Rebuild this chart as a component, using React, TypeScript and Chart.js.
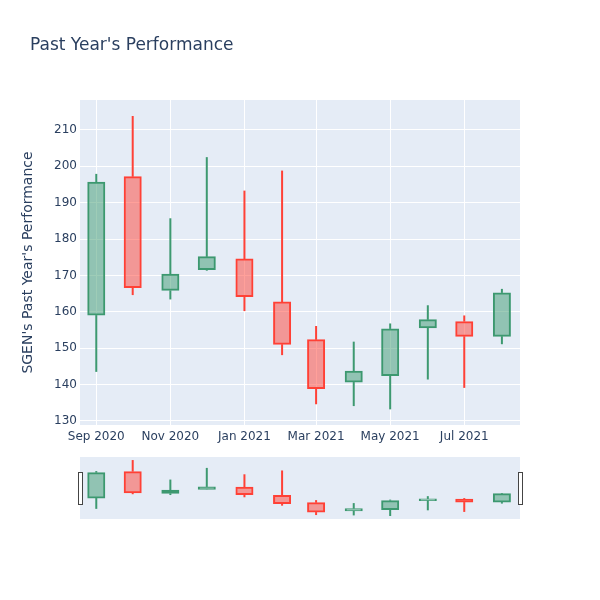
import React, { useEffect, useRef } from "react";
import { Chart, registerables } from "chart.js";

Chart.register(...registerables);

const chartTitle = "Past Year's Performance";
const yTitle = "SGEN's Past Year's Performance";

const dates = [
  "2020-09-01", "2020-10-01", "2020-11-01", "2020-12-01",
  "2021-01-01", "2021-02-01", "2021-03-01", "2021-04-01",
  "2021-05-01", "2021-06-01", "2021-07-01", "2021-08-01",
];
const opens = [159.1, 197.1, 165.9, 171.6, 174.5, 162.7, 152.3, 140.7, 142.5, 155.6, 157.3, 153.3];
const highs = [197.9, 213.8, 185.7, 202.5, 193.3, 198.8, 156.1, 151.8, 156.8, 161.8, 159.0, 166.3];
const lows = [143.5, 164.6, 163.4, 171.3, 160.2, 148.1, 134.6, 134.1, 133.2, 141.4, 139.1, 151.1];
const closes = [195.6, 166.7, 170.3, 175.1, 164.2, 151.1, 138.9, 143.7, 155.3, 157.8, 153.3, 165.2];

const tickDates = ["2020-09-01", "2020-11-01", "2021-01-01", "2021-03-01", "2021-05-01", "2021-07-01"];
const tickLabels = ["Sep 2020", "Nov 2020", "Jan 2021", "Mar 2021", "May 2021", "Jul 2021"];
const yTicks = [130, 140, 150, 160, 170, 180, 190, 200, 210];

const X_MIN = -13.4;
const X_MAX = 348.9;
const Y_MIN = 128.9;
const Y_MAX = 218.2;

const UP = "#3D9970";
const DOWN = "#FF4136";
const UP_FILL = "rgba(61,153,112,0.5)";
const DOWN_FILL = "rgba(255,65,54,0.5)";
const BG = "#E5ECF6";
const TEXT = "#2a3f5f";
const FONT = "'DejaVu Sans', sans-serif";

const day = (s: string) => (Date.parse(s) - Date.parse(dates[0])) / 86400000;

function makeDatasets(): any[] {
  const isUp = dates.map((_, i) => closes[i] >= opens[i]);
  const lineCol = isUp.map((u) => (u ? UP : DOWN));
  const fillCol = isUp.map((u) => (u ? UP_FILL : DOWN_FILL));
  return [
    {
      label: "body",
      data: dates.map((d, i) => ({ x: day(d), y: [opens[i], closes[i]] })),
      backgroundColor: fillCol,
      borderColor: lineCol,
      borderWidth: 1,
      borderSkipped: false,
      barThickness: 17,
      inflateAmount: 0.5,
      grouped: false,
    },
    {
      label: "upper",
      data: dates.map((d, i) => ({ x: day(d), y: [Math.max(opens[i], closes[i]), highs[i]] })),
      backgroundColor: lineCol,
      borderWidth: 0,
      barThickness: 2,
      inflateAmount: 0,
      grouped: false,
    },
    {
      label: "lower",
      data: dates.map((d, i) => ({ x: day(d), y: [lows[i], Math.min(opens[i], closes[i])] })),
      backgroundColor: lineCol,
      borderWidth: 0,
      barThickness: 2,
      inflateAmount: 0,
      grouped: false,
    },
  ];
}

const bgPlugin = {
  id: "bgfill",
  beforeDraw(chart: any) {
    const { ctx, chartArea } = chart;
    ctx.save();
    ctx.fillStyle = BG;
    ctx.fillRect(chartArea.left, chartArea.top, chartArea.right - chartArea.left, chartArea.bottom - chartArea.top);
    ctx.restore();
  },
};

const titlePlugin = {
  id: "maintitle",
  afterDraw(chart: any) {
    const { ctx } = chart;
    ctx.save();
    ctx.font = `17px ${FONT}`;
    ctx.fillStyle = TEXT;
    ctx.textBaseline = "alphabetic";
    ctx.textAlign = "left";
    ctx.fillText(chartTitle, 30, 50);
    ctx.restore();
  },
};

const handlePlugin = {
  id: "handles",
  afterDraw(chart: any) {
    const { ctx, chartArea } = chart;
    const midY = (chartArea.top + chartArea.bottom) / 2;
    ctx.save();
    ctx.fillStyle = "#ffffff";
    ctx.strokeStyle = "#444444";
    ctx.lineWidth = 1;
    for (const xEdge of [chartArea.left, chartArea.right]) {
      const x = Math.round(xEdge - 2.5) + 0.5;
      const y = Math.round(midY - 16) + 0.5;
      ctx.fillRect(x, y, 4, 32);
      ctx.strokeRect(x, y, 4, 32);
    }
    ctx.restore();
  },
};

export default function App() {
  const mainRef = useRef<HTMLCanvasElement | null>(null);
  const miniRef = useRef<HTMLCanvasElement | null>(null);

  useEffect(() => {
    if (!mainRef.current || !miniRef.current) return;
    const main = new Chart(mainRef.current, {
      type: "bar",
      data: { datasets: makeDatasets() },
      options: {
        animation: false,
        responsive: false,
        devicePixelRatio: 1,
        layout: { padding: { top: 100, right: 80, bottom: 155, left: 0 } },
        plugins: { legend: { display: false }, tooltip: { enabled: false }, title: { display: false } },
        scales: {
          x: {
            type: "linear",
            min: X_MIN,
            max: X_MAX,
            offset: false,
            grid: { color: "#ffffff", lineWidth: 1, drawTicks: false, offset: false },
            border: { display: false },
            afterBuildTicks: (scale: any) => {
              scale.ticks = tickDates.map((d) => ({ value: day(d) }));
            },
            afterFit: (scale: any) => {
              scale.height = 20;
            },
            ticks: {
              autoSkip: false,
              maxRotation: 0,
              padding: 5,
              color: TEXT,
              font: { family: FONT, size: 12 },
              callback: (_v: any, i: number) => tickLabels[i],
            },
          },
          y: {
            type: "linear",
            min: Y_MIN,
            max: Y_MAX,
            grid: { color: "#ffffff", lineWidth: 1, drawTicks: false },
            border: { display: false },
            afterBuildTicks: (scale: any) => {
              scale.ticks = yTicks.map((v) => ({ value: v }));
            },
            afterFit: (scale: any) => {
              scale.width = 80;
            },
            ticks: {
              padding: 3,
              color: TEXT,
              font: { family: FONT, size: 12 },
              callback: (v: any) => String(v),
            },
            title: {
              display: true,
              text: yTitle,
              color: TEXT,
              font: { family: FONT, size: 14 },
              padding: { top: 20, bottom: 0 },
            },
          },
        },
      } as any,
      plugins: [bgPlugin, titlePlugin],
    });

    const mini = new Chart(miniRef.current, {
      type: "bar",
      data: { datasets: makeDatasets() },
      options: {
        animation: false,
        responsive: false,
        devicePixelRatio: 1,
        layout: { padding: { top: 457, right: 80, bottom: 81, left: 80 } },
        plugins: { legend: { display: false }, tooltip: { enabled: false }, title: { display: false } },
        scales: {
          x: { type: "linear", display: false, min: X_MIN, max: X_MAX, offset: false },
          y: { type: "linear", display: false, min: Y_MIN, max: Y_MAX },
        },
      } as any,
      plugins: [bgPlugin, handlePlugin],
    });

    return () => {
      main.destroy();
      mini.destroy();
    };
  }, []);

  return (
    <div style={{ position: "absolute", left: 0, top: 0, width: 600, height: 600, background: "#ffffff" }}>
      <canvas ref={mainRef} width={600} height={600} style={{ position: "absolute", left: 0, top: 0 }} />
      <canvas ref={miniRef} width={600} height={600} style={{ position: "absolute", left: 0, top: 0, pointerEvents: "none" }} />
    </div>
  );
}
